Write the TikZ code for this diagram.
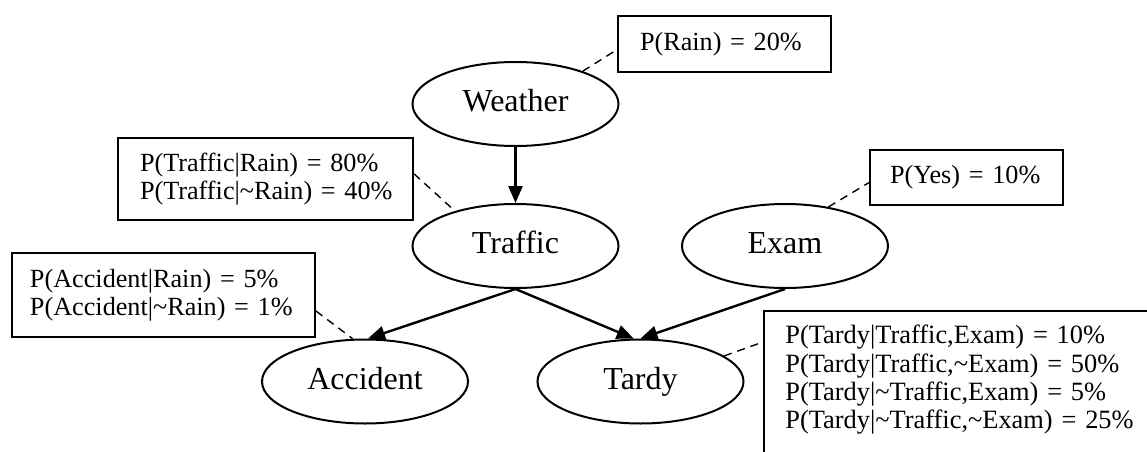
\documentclass[tikz,border=0pt]{standalone}
\usepackage{fontspec}
\setmainfont{Liberation Serif}
\usetikzlibrary{shapes.geometric,arrows.meta,calc}

% one unbreakable line of a probability table
\newcommand{\cptline}[1]{\mbox{#1}}

\begin{document}
\begin{tikzpicture}[x=0.5pt,y=-0.5pt,
  var/.style={ellipse,draw,line width=1pt,inner sep=0pt,
    minimum width=103pt,minimum height=42pt,
    text height=11pt,text depth=3.5pt,
    font=\fontsize{16pt}{18pt}\selectfont},
  cpt/.style={rectangle,draw,line width=1pt,inner sep=0pt,align=left,
    font=\fontsize{13.1pt}{14pt}\selectfont},
  cpttext/.style={inner sep=0pt,align=left,
    font=\fontsize{13.2pt}{14.15pt}\selectfont},
  edge/.style={-{Triangle[length=8.5pt,width=7pt]},line width=1.2pt},
  note/.style={dash pattern=on 4pt off 3pt,line width=0.7pt}]
\clip (0,0) rectangle (1147,451);

% variables of the network
\node[var] (weather)  at (515.5,104)   {Weather};
\node[var] (traffic)  at (515.5,246)   {Traffic};
\node[var] (exam)     at (785,246)     {Exam};
\node[var] (accident) at (365,381.5)   {Accident};
\node[var] (tardy)    at (640.5,381.5) {Tardy};

% conditional probability tables
\node[cpt,minimum width=106.5pt,minimum height=28pt,text width=84.5pt]
  (prain) at (724.5,44) {\cptline{P(Rain) = 20\%}};
\node[cpt,minimum width=147.5pt,minimum height=41pt,text width=125.5pt]
  (ptraffic) at (265.5,179)
  {\cptline{P(Traffic|Rain) = 80\%}\\
   \cptline{P(Traffic|\textasciitilde Rain) = 40\%}};
\node[cpt,minimum width=96.5pt,minimum height=27.5pt,text width=76.5pt]
  (pexam) at (966.5,177.5) {\cptline{P(Yes) = 10\%}};
\node[cpt,minimum width=151.5pt,minimum height=42pt,text width=133.5pt]
  (paccident) at (163.5,295)
  {\cptline{P(Accident|Rain) = 5\%}\\
   \cptline{P(Accident|\textasciitilde Rain) = 1\%}};
\node[cpt,anchor=north west,minimum width=220pt,minimum height=100pt]
  (ptardybox) at (763,310) {};
\node[cpttext,anchor=north west,text width=190pt] (ptardy) at (785,325)
  {\cptline{P(Tardy|Traffic,Exam) = 10\%}\\
   \cptline{P(Tardy|Traffic,\textasciitilde Exam) = 50\%}\\
   \cptline{P(Tardy|\textasciitilde Traffic,Exam) = 5\%}\\
   \cptline{P(Tardy|\textasciitilde Traffic,\textasciitilde Exam) = 25\%}};

% causal links
\draw[edge] (weather.south) -- (traffic.north);
\draw[edge] (traffic.south) -- (accident.86);
\draw[edge] (traffic.south) -- (tardy.99);
\draw[edge] (exam.south) -- (tardy.north);

% table attachments
\draw[note] (weather.26) -- (prain.183);
\draw[note] (ptraffic.2) -- (traffic.150);
\draw[note] (exam.42) -- (pexam.183);
\draw[note] (paccident.354) -- (accident.106);
\coordinate (tardyhook) at ($(ptardybox.north west)+(0,32)$);
\draw[note] (tardy.17) -- (tardyhook);
\end{tikzpicture}
\end{document}
